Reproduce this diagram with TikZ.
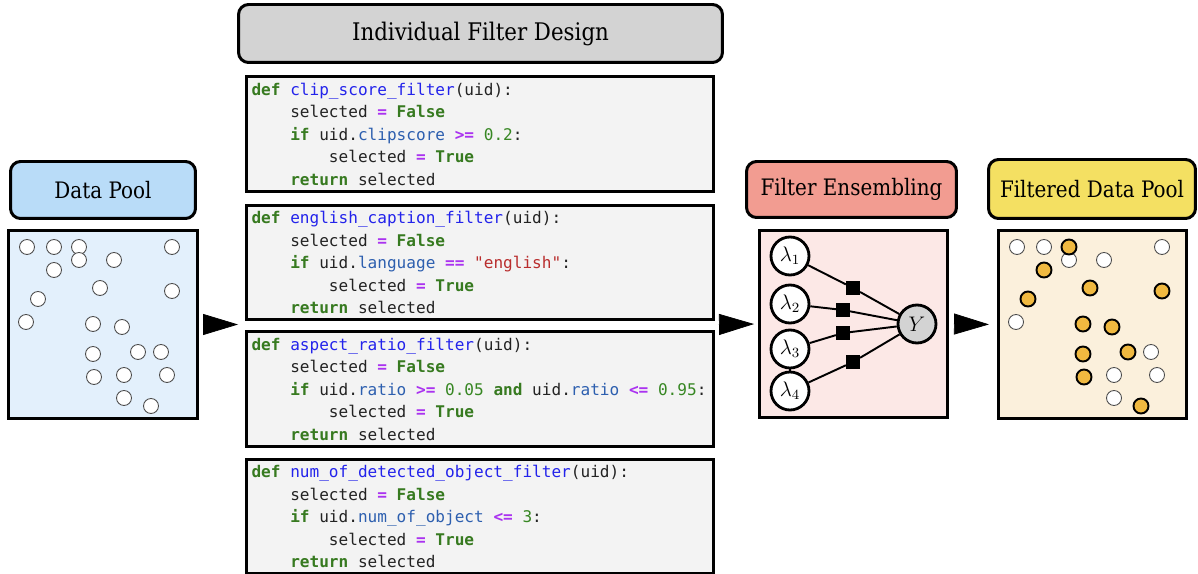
\documentclass[tikz,border=0pt]{standalone}
\usepackage{fontspec}
\usepackage{amsmath}
\usepackage{tikz}
\usetikzlibrary{arrows.meta,shapes}
\newfontfamily\codefont{DejaVu Sans Mono}
\newfontfamily\headfont[FakeStretch=0.88]{DejaVu Serif}
\definecolor{codebg}{HTML}{F3F3F3}
\definecolor{codetext}{RGB}{35,35,35}
\definecolor{kwgreen}{RGB}{55,122,32}
\definecolor{numgreen}{RGB}{55,135,35}
\definecolor{defblue}{RGB}{35,35,235}
\definecolor{propblue}{RGB}{45,95,175}
\definecolor{oppurple}{RGB}{170,50,240}
\definecolor{strred}{RGB}{185,45,45}
\definecolor{headgray}{HTML}{D3D3D3}
\definecolor{poolhead}{HTML}{B9DCF8}
\definecolor{poolbg}{HTML}{E3F0FC}
\definecolor{enshead}{HTML}{F29C91}
\definecolor{ensbg}{HTML}{FCE8E6}
\definecolor{filthead}{HTML}{F4E062}
\definecolor{filtbg}{HTML}{FBF0DC}
\definecolor{keptyellow}{HTML}{F0B940}
\newcommand{\kw}[1]{\textcolor{kwgreen}{\bfseries #1}}
\newcommand{\fn}[1]{\textcolor{defblue}{#1}}
\newcommand{\attr}[1]{\textcolor{propblue}{#1}}
\newcommand{\opr}[1]{\textcolor{oppurple}{\bfseries #1}}
\newcommand{\nm}[1]{\textcolor{numgreen}{#1}}
\newcommand{\qs}[1]{\textcolor{strred}{#1}}
\newcommand{\ind}{\hphantom{xxxx}}
\newcommand{\codesize}{\codefont\fontsize{9.15pt}{12.8pt}\selectfont\spaceskip=\fontcharwd\font`x\relax}
\tikzstyle{header}=[draw, line width=1.7pt, rounded corners=0.2cm, inner sep=0pt, font=\headfont\fontsize{12.9pt}{15pt}\selectfont]
\tikzstyle{pool}=[draw, line width=1.7pt, inner sep=0pt, minimum width=3.78cm, minimum height=3.76cm]
\tikzstyle{code box}=[draw, line width=1.7pt, fill=codebg, inner xsep=0.1cm, inner ysep=0pt, text width=9.14cm, align=flush left, minimum height=2.3cm, text=codetext, font=\codesize]
\tikzstyle{vertex}=[circle, draw, fill=white, line width=1.6pt, minimum size=0.76cm, inner sep=0pt, font=\large]
\tikzstyle{label vertex}=[vertex, fill=headgray]
\tikzstyle{factor}=[rectangle, fill=black, minimum size=0.27cm, inner sep=0pt]
\tikzstyle{edge} = [draw,line width=1.1pt,-]
\tikzstyle{sample}=[circle, draw=black!70, fill=white, line width=0.5pt, minimum size=0.3cm, inner sep=0pt]
\tikzstyle{kept sample}=[circle, draw=black, fill=keptyellow, line width=1.1pt, minimum size=0.3cm, inner sep=0pt]
\tikzstyle{flow}=[-{Triangle[length=0.7cm,width=0.42cm]}, line width=0.4pt]

\begin{document}
\begin{tikzpicture}[x=0.02cm, y=-0.02cm]
	\useasboundingbox (0,0) rectangle (1198,574);

	% Headers of the four stages
	\node[header, fill=poolhead, minimum width=3.7cm, minimum height=1.14cm] (pool head) at (103,190) {Data Pool};
	\node[header, fill=headgray, minimum width=9.68cm, minimum height=1.16cm, font=\headfont\fontsize{13.8pt}{16pt}\selectfont] (design head) at (480.5,33.5) {Individual Filter Design};
	\node[header, fill=enshead, minimum width=4.2cm, minimum height=1.12cm] (ens head) at (851.5,189.5) {Filter Ensembling};
	\node[header, fill=filthead, minimum width=4.14cm, minimum height=1.18cm] (filt head) at (1092,189) {Filtered Data Pool};

	% Pools
	\node[pool, fill=poolbg] (pool) at (103,324.5) {};
	\node[pool, fill=ensbg, minimum width=3.76cm] (ens) at (853.5,324) {};
	\node[pool, fill=filtbg, minimum width=3.76cm] (filt) at (1092.5,324.5) {};

	% The filters
	\node[code box] (filter1) at (480,134) {%
		\kw{def} \fn{clip\_score\_filter}(uid):\\
		\ind selected \opr{=} \kw{False}\\
		\ind \kw{if} uid.\attr{clipscore} \opr{>=} \nm{0.2}:\\
		\ind\ind selected \opr{=} \kw{True}\\
		\ind \kw{return} selected};
	\node[code box] (filter2) at (480,262.5) {%
		\kw{def} \fn{english\_caption\_filter}(uid):\\
		\ind selected \opr{=} \kw{False}\\
		\ind \kw{if} uid.\attr{language} \opr{==} \qs{"english"}:\\
		\ind\ind selected \opr{=} \kw{True}\\
		\ind \kw{return} selected};
	\node[code box] (filter3) at (480,389) {%
		\kw{def} \fn{aspect\_ratio\_filter}(uid):\\
		\ind selected \opr{=} \kw{False}\\
		\ind \kw{if} uid.\attr{ratio} \opr{>=} \nm{0.05} \kw{and} uid.\attr{ratio} \opr{<=} \nm{0.95}:\\
		\ind\ind selected \opr{=} \kw{True}\\
		\ind \kw{return} selected};
	\node[code box] (filter4) at (480,516.5) {%
		\kw{def} \fn{num\_of\_detected\_object\_filter}(uid):\\
		\ind selected \opr{=} \kw{False}\\
		\ind \kw{if} uid.\attr{num\_of\_object} \opr{<=} \nm{3}:\\
		\ind\ind selected \opr{=} \kw{True}\\
		\ind \kw{return} selected};

	% Samples in the data pool
	\foreach \x/\y [count=\i] in {27/247, 54/247, 79/247, 172/247, 79/260, 114/260, 54/270,
		100/288, 172/291, 38/299, 26/322, 93/324, 122/327, 93/354, 138/352, 161/352,
		94/377, 124/375, 167/375, 124/398, 151/406}
	\node[sample] (pool dot \i) at (\x,\y) {};

	% Samples after filtering: dropped ones stay white, kept ones are yellow
	\foreach \x/\y [count=\i] in {27/247, 54/247, 172/247, 79/260, 114/260, 26/322,
		161/352, 124/375, 167/375, 124/398}
	\node[sample] (dropped \i) at (\x+990,\y) {};
	\foreach \x/\y [count=\i] in {79/247, 54/270, 100/288, 172/291, 38/299, 93/324,
		122/327, 93/354, 138/352, 94/377, 151/406}
	\node[kept sample] (kept \i) at (\x+990,\y) {};

	% Label model
	\foreach \pos/\name/\text in {{(790,256)/l1/$\lambda_1$}, {(790,304)/l2/$\lambda_2$},
		{(790,349)/l3/$\lambda_3$}, {(790,391)/l4/$\lambda_4$}}
	\node[vertex] (\name) at \pos {\text};
	\node[label vertex] (Y) at (917,324) {$Y$};
	\foreach \pos/\name in {{(853,288)/f1}, {(843,310)/f2}, {(843,333)/f3}, {(853,362)/f4}}
	\node[factor] (\name) at \pos {};

	\foreach \source/ \dest in {
		l1/f1,
		l2/f2,
		l3/f3,
		l4/f4,
		f1/Y,
		f2/Y,
		f3/Y,
		f4/Y,
		l3/l4}
	\path[edge] (\source) -- (\dest);

	% Arrows between the stages
	\coordinate (filters in) at (filter2.south west |- pool.east);
	\coordinate (filters out) at (filter2.south east |- pool.east);
	\draw[flow, shorten <=0.08cm, shorten >=0.14cm] (pool.east) -- (filters in);
	\draw[flow, shorten <=0.08cm, shorten >=0.08cm] (filters out) -- (ens.west);
	\draw[flow, shorten <=0.1cm, shorten >=0.16cm] (ens.east) -- (filt.west);
\end{tikzpicture}
\end{document}
